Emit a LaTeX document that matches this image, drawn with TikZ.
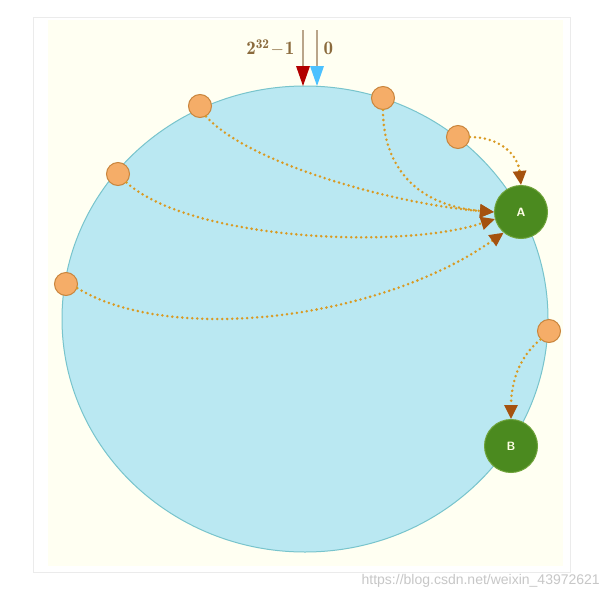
\documentclass[tikz,border=0pt]{standalone}
\usepackage{fontspec}
\newfontfamily\wmfont{Liberation Sans}
\usetikzlibrary{arrows.meta}
\definecolor{ring}{HTML}{BAE8F2}
\definecolor{ringedge}{HTML}{78C4CC}
\definecolor{onode}{HTML}{F5AD68}
\definecolor{onodeedge}{HTML}{C9853C}
\definecolor{gnode}{HTML}{4B8A1F}
\definecolor{gnodeedge}{HTML}{6FA33A}
\definecolor{dotc}{HTML}{D99A22}
\definecolor{tipc}{HTML}{A5520F}
\definecolor{cream}{HTML}{FFFFF2}
\definecolor{labc}{HTML}{8A6A3C}
\tikzset{
  x=1pt,y=-1pt,
  server/.style={circle,fill=onode,draw=onodeedge,line width=1pt,minimum size=23pt,inner sep=0pt},
  host/.style={circle,fill=gnode,draw=gnodeedge,line width=1pt,minimum size=53pt,inner sep=0pt,text=white!90!yellow,font=\sffamily\bfseries\large},
  link/.style={dotc,line width=2.8pt,line cap=round,dash pattern=on 0pt off 5pt,-{Triangle[length=14pt,width=13pt,color=tipc,line cap=butt]}},
}
\begin{document}
\begin{tikzpicture}
\useasboundingbox (0,0) rectangle (606,600);
\fill[white] (0,0) rectangle (606,600);
\draw[black!8,line width=1pt,fill=white] (33,17) rectangle (570,572);
\fill[cream] (48,20) rectangle (563,566);
\draw[ringedge,fill=ring,line width=1pt] (305,319) ellipse [x radius=243, y radius=233];
% top marker
\draw[labc!60,line width=1.5pt] (303,30) -- (303,66);
\draw[labc!60,line width=1.5pt] (317,30) -- (317,66);
\fill[red!70!black] (296,66) -- (310,66) -- (303,86) -- cycle;
\fill[blue!35!cyan!70] (310,66) -- (324,66) -- (317,86) -- cycle;
\node[labc,font=\fontsize{19}{19}\selectfont\bfseries,anchor=east] (lmax) at (298,48) {$\mathbf{2^{32}\!-\!1}$};
\node[labc,font=\fontsize{19}{19}\selectfont\bfseries,anchor=west] (lzero) at (320,48) {$\mathbf{0}$};
% servers
\node[server] (s1) at (200,106) {};
\node[server] (s2) at (383,98) {};
\node[server] (s3) at (458,137) {};
\node[server] (s4) at (118,174) {};
\node[server] (s5) at (66,284) {};
\node[server] (s6) at (549,331) {};
\node[host] (A) at (521,212) {A};
\node[host] (B) at (511,446) {B};
% links
\draw[link] (s1.-60) .. controls (250,165) and (400,205) .. (A.west);
\draw[link] (s2.-90) .. controls (383,160) and (410,205) .. (A.west);
\draw[link] (s3.east) .. controls (500,137) and (518,155) .. (A.north);
\draw[link] (s4.-45) .. controls (190,240) and (400,250) .. (A.-165);
\draw[link] (s5.-20) .. controls (170,345) and (380,320) .. (A.-130);
\draw[link] (s6.-135) .. controls (515,360) and (511,390) .. (B.north);
\node[black!22,font=\wmfont\fontsize{14}{14}\selectfont,anchor=east,inner sep=0pt] (wm) at (600,581) {https://blog.csdn.net/weixin\_43972621};
\end{tikzpicture}
\end{document}
